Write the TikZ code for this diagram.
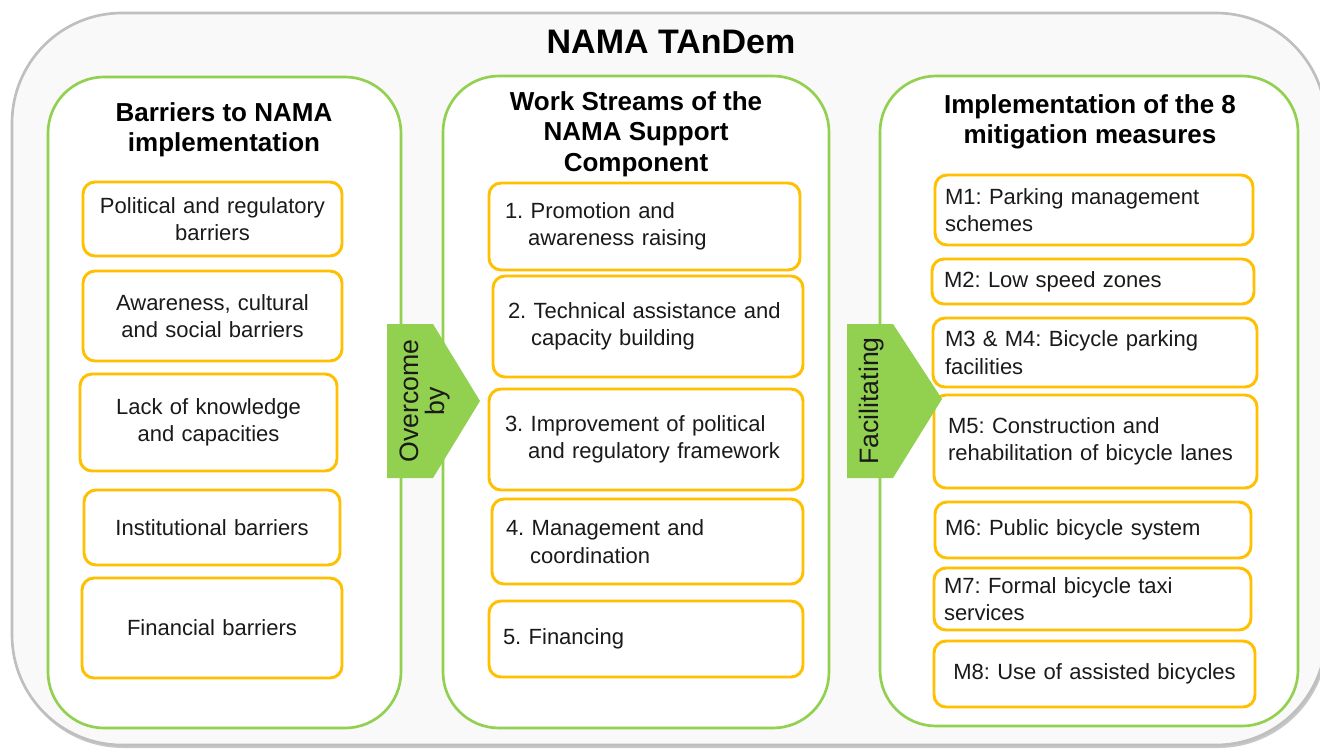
\documentclass[tikz,border=0pt]{standalone}
\usepackage{fontspec}
\setmainfont{Liberation Sans}
\frenchspacing
\definecolor{ngreen}{HTML}{92D050}
\definecolor{norange}{HTML}{FFC000}
\definecolor{ngray}{HTML}{BFBFBF}
\definecolor{nbg}{HTML}{F9F9F9}
\definecolor{ntext}{HTML}{1A1A1A}
\tikzset{
  panel/.style={draw=ngreen, fill=white, line width=2pt, rounded corners=42pt, inner sep=0pt},
  obox/.style={draw=norange, fill=white, line width=2.2pt, rounded corners=9pt, inner ysep=0pt, text=ntext,
    font=\fontsize{16.5}{20.5}\selectfont},
  head/.style={font=\bfseries\fontsize{19.5}{22.8}\selectfont, align=center, text=black},
  arrowfill/.style={fill=ngreen, draw=none},
  arrowtext/.style={font=\fontsize{20}{19}\selectfont, align=center, rotate=90, text=ntext}
}
% #1 name, #2 x1, #3 y1, #4 x2, #5 y2, #6 pad (px), #7 align, #8 text
\newcommand\ob[8]{%
  \pgfmathsetmacro\obw{(#4-#2)*0.75}%
  \pgfmathsetmacro\obh{(#5-#3)*0.75}%
  \pgfmathsetmacro\obp{#6*0.75}%
  \pgfmathsetmacro\obt{(#4-#2-2*#6)*0.75}%
  \node[obox, inner xsep=\obp pt, text width=\obt pt, minimum height=\obh pt, align=#7]
    (#1) at ({(#2+#4)/2},{(#3+#5)/2}) {#8};%
}
\begin{document}
\begin{tikzpicture}[x=0.75pt,y=-0.75pt]
\useasboundingbox (0,0) rectangle (1320,749);
% outer frame
\fill[black!22, rounded corners=82.5pt] (13,16) rectangle (1328,748);
\draw[ngray, line width=2pt, fill=nbg, rounded corners=82.5pt] (12,13) rectangle (1326,745);
\node[font=\bfseries\fontsize{25.5}{30}\selectfont] (title) at (671,42) {NAMA TAnDem};
% panels
\node[panel, minimum width=264.75pt, minimum height=488.25pt] (pl) at (224.5,402.5) {};
\node[panel, minimum width=289.5pt, minimum height=489pt] (pm) at (636,402) {};
\node[panel, minimum width=313.5pt, minimum height=487.5pt] (pr) at (1089,401) {};
% headers
\node[head] (hl) at (224,130) {Barriers to NAMA\\implementation};
\node[head] (hm) at (636,134) {Work Streams of the\\NAMA Support\\Component};
\node[head] (hr) at (1090,122) {Implementation of the 8\\mitigation measures};
% left column
\ob{l1}{83}{182}{342}{256}{6}{center}{Political and regulatory\\barriers}
\ob{l2}{83}{271}{342}{361}{6}{center}{Awareness, cultural\\and social barriers}
\ob{l3}{80}{374}{337}{471}{6}{center}{Lack of knowledge\\and capacities}
\ob{l4}{84}{490}{340}{565}{6}{center}{Institutional barriers}
\ob{l5}{82}{578}{342}{678}{6}{center}{Financial barriers}
% middle column
\ob{m1}{489}{183}{800}{270}{16}{left}{1. Promotion and\\\hspace*{1.05em}awareness raising}
\ob{m2}{493}{276}{803}{377}{15}{left}{2. Technical assistance and\\\hspace*{1.05em}capacity building}
\ob{m3}{489}{389}{803}{490}{16}{left}{3. Improvement of political\\\hspace*{1.05em}and regulatory framework}
\ob{m4}{492}{499}{803}{584}{14}{left}{4. Management and\\\hspace*{1.1em}coordination}
\ob{m5}{489}{601}{803}{677}{14}{left}{5. Financing}
% right column
\ob{r1}{935}{175}{1253}{245}{10}{left}{M1: Parking management\\schemes}
\ob{r2}{932}{259}{1254}{304}{12}{left}{M2: Low speed zones}
\ob{r3}{933}{318}{1257}{387}{12}{left}{M3 \& M4: Bicycle parking\\facilities}
\ob{r4}{934}{395}{1257}{488}{14}{left}{M5: Construction and\\rehabilitation of bicycle lanes}
\ob{r5}{935}{502}{1251}{558}{10}{left}{M6: Public bicycle system}
\ob{r6}{934}{568}{1251}{630}{10}{left}{M7: Formal bicycle taxi\\services}
\ob{r7}{934}{641}{1255}{707}{6}{center}{M8: Use of assisted bicycles}
% arrows
\fill[arrowfill] (387,324) -- (433,324) -- (480,401) -- (433,478) -- (387,478) -- cycle;
\node[arrowtext] (a1) at (425,401) {Overcome\\by};
\fill[arrowfill] (847,324) -- (893,324) -- (942,399) -- (893,478) -- (847,478) -- cycle;
\node[arrowtext] (a2) at (872,401) {Facilitating};
\end{tikzpicture}
\end{document}
